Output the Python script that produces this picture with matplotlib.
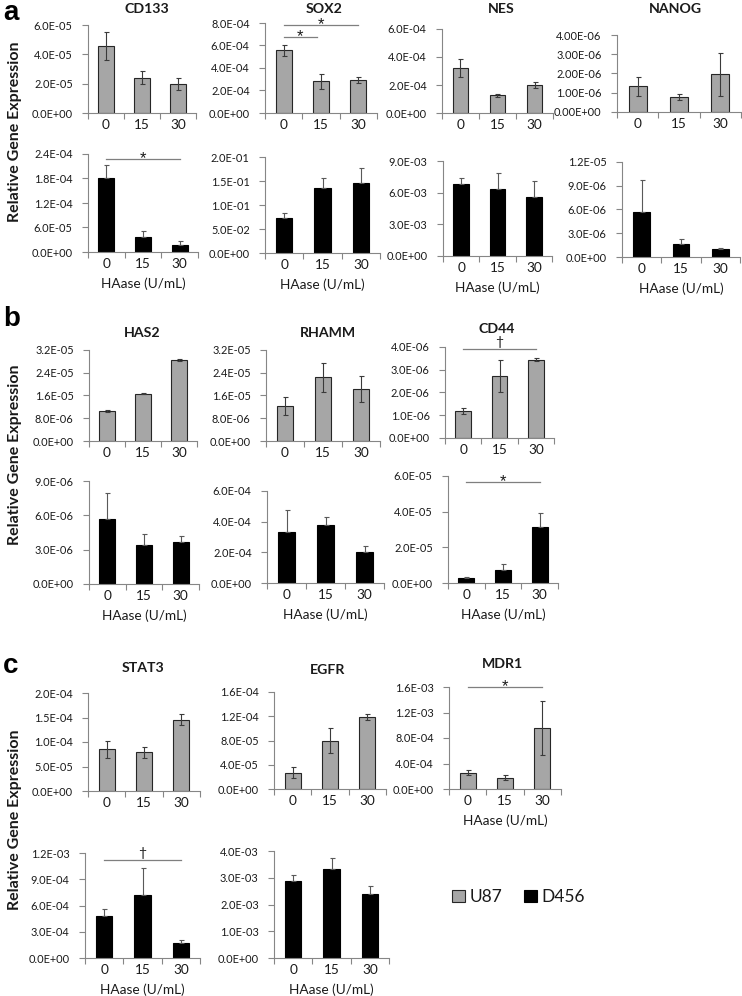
import matplotlib
matplotlib.use("Agg")
import matplotlib.pyplot as plt
from matplotlib.patches import Patch
import numpy as np

plt.rcParams['font.family'] = ['Lato', 'DejaVu Sans']

# ---------------- data ----------------
doses = ["0", "15", "30"]

cd133_u87 = [4.57e-5, 2.42e-5, 1.97e-5]
cd133_u87_err = [0.93e-5, 0.42e-5, 0.43e-5]
sox2_u87 = [5.57e-4, 2.81e-4, 2.96e-4]
sox2_u87_err = [0.50e-4, 0.68e-4, 0.25e-4]
nes_u87 = [3.19e-4, 1.27e-4, 1.99e-4]
nes_u87_err = [0.65e-4, 0.12e-4, 0.20e-4]
nanog_u87 = [1.34e-6, 0.78e-6, 1.95e-6]
nanog_u87_err = [0.49e-6, 0.17e-6, 1.10e-6]

cd133_d456 = [1.80e-4, 3.6e-5, 1.75e-5]
cd133_d456_err = [3.3e-5, 1.5e-5, 1.0e-5]
sox2_d456 = [7.2e-2, 1.35e-1, 1.46e-1]
sox2_d456_err = [1.1e-2, 2.1e-2, 3.1e-2]
nes_d456 = [6.83e-3, 6.35e-3, 5.56e-3]
nes_d456_err = [0.57e-3, 1.5e-3, 1.5e-3]
nanog_d456 = [5.64e-6, 1.65e-6, 1.02e-6]
nanog_d456_err = [4.1e-6, 0.6e-6, 0.17e-6]

has2_u87 = [10.6e-6, 16.7e-6, 28.5e-6]
has2_u87_err = [0.25e-6, 0.25e-6, 0.25e-6]
rhamm_u87 = [12.2e-6, 22.4e-6, 18.2e-6]
rhamm_u87_err = [3.2e-6, 5.2e-6, 4.5e-6]
cd44_u87 = [1.19e-6, 2.72e-6, 3.45e-6]
cd44_u87_err = [0.12e-6, 0.70e-6, 0.08e-6]

has2_d456 = [5.66e-6, 3.40e-6, 3.69e-6]
has2_d456_err = [2.27e-6, 0.99e-6, 0.50e-6]
rhamm_d456 = [3.35e-4, 3.76e-4, 2.00e-4]
rhamm_d456_err = [1.38e-4, 0.56e-4, 0.43e-4]
cd44_d456 = [0.28e-5, 0.71e-5, 3.12e-5]
cd44_d456_err = [0.06e-5, 0.37e-5, 0.78e-5]

stat3_u87 = [8.47e-5, 7.93e-5, 14.58e-5]
stat3_u87_err = [1.8e-5, 1.15e-5, 1.2e-5]
egfr_u87 = [2.68e-5, 7.97e-5, 11.8e-5]
egfr_u87_err = [0.93e-5, 2.1e-5, 0.5e-5]
mdr1_u87 = [2.55e-4, 1.75e-4, 9.57e-4]
mdr1_u87_err = [0.43e-4, 0.38e-4, 4.3e-4]

stat3_d456 = [4.84e-4, 7.16e-4, 1.71e-4]
stat3_d456_err = [0.76e-4, 3.1e-4, 0.38e-4]
egfr_d456 = [2.86e-3, 3.32e-3, 2.38e-3]
egfr_d456_err = [0.24e-3, 0.40e-3, 0.31e-3]

series_labels = ["U87", "D456"]
xlabel_text = "HAase (U/mL)"
ylabel_text = "Relative Gene Expression"

# significance marks: (x_from, x_to, y, symbol)
sig_sox2_u87 = [(0, 2, 7.85e-4, "*"), (0, 0.9, 6.73e-4, "*")]
sig_cd133_d456 = [(0, 2, 2.28e-4, "*")]
sig_cd44_u87 = [(0, 2, 3.9e-6, "†")]
sig_cd44_d456 = [(0, 2, 5.64e-5, "*")]
sig_mdr1_u87 = [(0, 2, 1.6e-3, "*")]
sig_stat3_d456 = [(0, 2, 1.12e-3, "†")]

# ---------------- layout ----------------
W, H = 742, 996
fig = plt.figure(figsize=(W / 100, H / 100), dpi=100)

GRAY = '#a6a6a6'
AXC = '#868686'
TXT = '#1a1a1a'


def box(x0, x1, ytop, ybot):
    return [x0 / W, 1 - ybot / H, (x1 - x0) / W, (ybot - ytop) / H]


def chart(rect, vals, errs, gray, ymax, n, dec=1, xlabel=False, sig=()):
    ax = fig.add_axes(rect)
    x = np.arange(len(doses))
    if gray:
        ax.bar(x, vals, width=0.43, color=GRAY, edgecolor='#262626', linewidth=0.8, zorder=2)
        ax.errorbar(x, vals, yerr=errs, fmt='none', ecolor='#3a3a3a', elinewidth=0.8,
                    capsize=1.8, capthick=0.8, zorder=3)
    else:
        ax.bar(x, vals, width=0.43, color='black', edgecolor='black', linewidth=0.8, zorder=2)
        ax.errorbar(x, vals, yerr=[[0] * len(errs), errs], fmt='none', ecolor='#595959',
                    elinewidth=0.8, capsize=1.8, capthick=0.8, zorder=3)
    ax.set_xlim(-0.5, 2.5)
    ax.set_ylim(0, ymax)
    ticks = np.linspace(0, ymax, n + 1)
    ax.set_yticks(ticks)
    ax.set_yticklabels([f"{t:.{dec}E}" for t in ticks])
    ax.set_xticks(x)
    ax.set_xticklabels(doses)
    ax.set_xticks([-0.5, 0.5, 1.5, 2.5], minor=True)
    for s in ('top', 'right'):
        ax.spines[s].set_visible(False)
    for s in ('left', 'bottom'):
        ax.spines[s].set_color(AXC)
        ax.spines[s].set_linewidth(0.8)
    ax.tick_params(axis='y', direction='out', length=4, width=0.8, color=AXC,
                   labelsize=7.9, labelcolor=TXT, pad=7)
    ax.tick_params(axis='x', which='major', length=0, labelsize=9.8, labelcolor=TXT, pad=4)
    ax.tick_params(axis='x', which='minor', direction='out', length=4, width=0.8, color=AXC)
    ax.patch.set_alpha(0)
    if xlabel:
        ax.set_xlabel(xlabel_text, fontsize=9.8, color=TXT, labelpad=6)
    for (a, b, y, sym) in sig:
        ax.plot([a, b], [y, y], color='#7f7f7f', lw=0.9, clip_on=False, zorder=4)
        if sym == "*":
            ax.annotate(sym, xy=((a + b) / 2, y), xytext=(0, -4), textcoords='offset pixels',
                        ha='center', va='baseline', fontsize=12, color=TXT,
                        family='Liberation Sans', annotation_clip=False)
        else:
            ax.annotate(sym, xy=((a + b) / 2, y), xytext=(0, 1), textcoords='offset pixels',
                        ha='center', va='bottom', fontsize=10, color=TXT,
                        annotation_clip=False)
    return ax


def title(xc, yc, s):
    fig.text(xc / W, 1 - yc / H, s, ha='center', va='center', fontsize=10.2,
             fontweight='bold', color=TXT)


# panel a
chart(box(88, 196, 25, 113), cd133_u87, cd133_u87_err, True, 6e-5, 3)
chart(box(265, 377, 23, 113), sox2_u87, sox2_u87_err, True, 8e-4, 4, sig=sig_sox2_u87)
chart(box(442, 553, 29, 113), nes_u87, nes_u87_err, True, 6e-4, 3)
chart(box(617, 741, 35, 112), nanog_u87, nanog_u87_err, True, 4e-6, 4, dec=2)
chart(box(88, 198, 154, 252), cd133_d456, cd133_d456_err, False, 2.4e-4, 4, xlabel=True, sig=sig_cd133_d456)
chart(box(265, 380, 157, 253), sox2_d456, sox2_d456_err, False, 0.2, 4, xlabel=True)
chart(box(443, 552, 161, 256), nes_d456, nes_d456_err, False, 9e-3, 3, xlabel=True)
chart(box(622, 740, 162, 257), nanog_d456, nanog_d456_err, False, 1.2e-5, 4, xlabel=True)

# panel b
chart(box(89, 197, 350, 441), has2_u87, has2_u87_err, True, 3.2e-5, 4)
chart(box(266, 380, 350, 441), rhamm_u87, rhamm_u87_err, True, 3.2e-5, 4)
chart(box(445, 554, 347, 438), cd44_u87, cd44_u87_err, True, 4e-6, 4, sig=sig_cd44_u87)
chart(box(89, 199, 481, 584), has2_d456, has2_d456_err, False, 9e-6, 3, xlabel=True)
chart(box(267, 384, 491, 583), rhamm_d456, rhamm_d456_err, False, 6e-4, 3, xlabel=True)
chart(box(448, 558, 476, 583), cd44_d456, cd44_d456_err, False, 6e-5, 3, xlabel=True, sig=sig_cd44_d456)

# panel c
chart(box(88, 200, 693, 791), stat3_u87, stat3_u87_err, True, 2e-4, 4)
chart(box(274, 386, 692, 789), egfr_u87, egfr_u87_err, True, 1.6e-4, 4)
chart(box(449, 561, 687, 789), mdr1_u87, mdr1_u87_err, True, 1.6e-3, 4, xlabel=True, sig=sig_mdr1_u87)
chart(box(85, 200, 853, 958), stat3_d456, stat3_d456_err, False, 1.2e-3, 4, xlabel=True, sig=sig_stat3_d456)
chart(box(274, 389, 851, 958), egfr_d456, egfr_d456_err, False, 4e-3, 4, xlabel=True)

# titles
title(147, 9, "CD133")
title(324, 9, "SOX2")
title(501, 9, "NES")
title(675, 9, "NANOG")
title(142, 333, "HAS2")
title(328, 333, "RHAMM")
title(497, 329, "CD44")
title(143, 668, "STAT3")
title(328, 670, "EGFR")
title(502, 664, "MDR1")

# y labels
for yc in (132, 455, 820):
    fig.text(15.5 / W, 1 - yc / H, ylabel_text, rotation=90, ha='center', va='center',
             fontsize=11.5, fontweight='bold', color=TXT)

# panel letters
for yt, letter in ((-2, 'a'), (306, 'b'), (653, 'c')):
    fig.text(3 / W, 1 - max(yt, 0) / H, letter, ha='left', va='top', fontsize=20,
             fontweight='bold', family='Liberation Sans', color='black')

# legend
handles = [Patch(facecolor=GRAY, edgecolor='#262626', linewidth=0.8),
           Patch(facecolor='black', edgecolor='black', linewidth=0.8)]
fig.legend(handles, series_labels, loc='center left', bbox_to_anchor=(436 / W, 1 - 897 / H),
           ncol=2, frameon=False, fontsize=12.5, handlelength=0.75, handleheight=0.75,
           handletextpad=0.3, columnspacing=1.2, labelcolor=TXT)

fig.savefig("out.png", dpi=100)
